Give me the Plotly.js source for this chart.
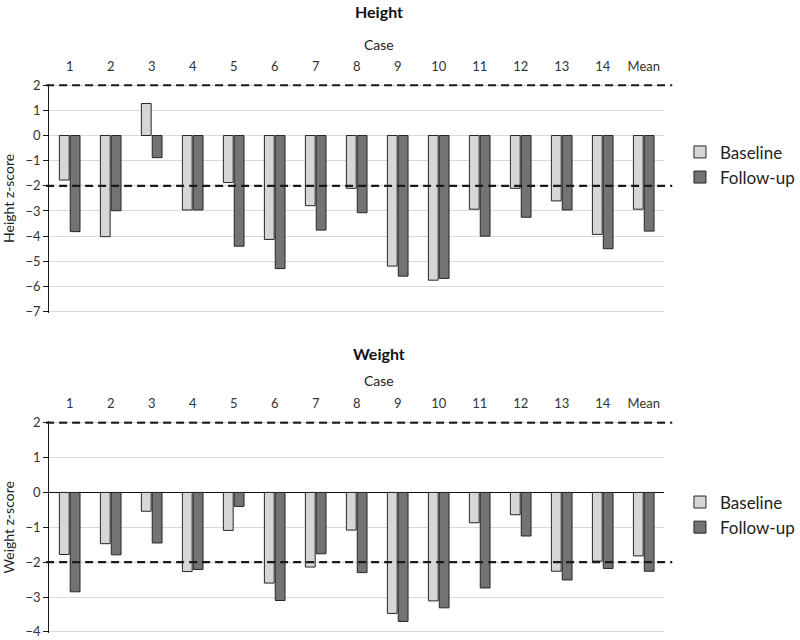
<!DOCTYPE html>
<html>
<head>
<meta charset="utf-8">
<script src="https://cdn.plot.ly/plotly-3.0.1.min.js"></script>
<style>html,body{margin:0;padding:0;background:#fff;}</style>
</head>
<body>
<div id="chart" style="width:800px;height:640px;"></div>
<script>
const cases = ['1','2','3','4','5','6','7','8','9','10','11','12','13','14','Mean'];
const heightBaseline = [-1.77,-4.02,1.27,-2.96,-1.87,-4.13,-2.79,-2.10,-5.19,-5.75,-2.93,-2.10,-2.60,-3.93,-2.93];
const heightFollowup = [-3.82,-2.99,-0.88,-2.96,-4.40,-5.29,-3.76,-3.07,-5.59,-5.68,-4.00,-3.25,-2.96,-4.50,-3.80];
const weightBaseline = [-1.78,-1.47,-0.54,-2.27,-1.09,-2.60,-2.14,-1.08,-3.47,-3.11,-0.87,-0.64,-2.26,-1.97,-1.82];
const weightFollowup = [-2.85,-1.79,-1.45,-2.21,-0.40,-3.10,-1.76,-2.30,-3.70,-3.31,-2.74,-1.25,-2.51,-2.18,-2.26];
const thresholds = [2, -2];
const seriesNames = ['Baseline', 'Follow-up'];

const FONT = 'Lato, "Open Sans", sans-serif';
const baseColor = '#d6d6d6';
const followColor = '#737373';
const outline = {color: '#262626', width: 1};

const traces = [
  {type:'bar', name:seriesNames[0], x:cases, y:heightBaseline, xaxis:'x', yaxis:'y',
   marker:{color:baseColor, line:outline}, legend:'legend', legendgroup:'a'},
  {type:'bar', name:seriesNames[1], x:cases, y:heightFollowup, xaxis:'x', yaxis:'y',
   marker:{color:followColor, line:outline}, legend:'legend', legendgroup:'b'},
  {type:'bar', name:seriesNames[0], x:cases, y:weightBaseline, xaxis:'x2', yaxis:'y2',
   marker:{color:baseColor, line:outline}, legend:'legend2', legendgroup:'c'},
  {type:'bar', name:seriesNames[1], x:cases, y:weightFollowup, xaxis:'x2', yaxis:'y2',
   marker:{color:followColor, line:outline}, legend:'legend2', legendgroup:'d'}
];

const shapes = [];
['y','y2'].forEach(ax => {
  thresholds.forEach(t => {
    shapes.push({type:'line', xref:'x domain', yref:ax, x0:-0.005, x1:1.013, y0:t, y1:t,
      line:{color:'#1a1a1a', width:2.2, dash:'8px,5px'}, layer:'above'});
  });
});

const xCommon = {type:'category', side:'top', showline:false, ticks:'', showgrid:false,
  zeroline:false, tickfont:{family:FONT, size:13, color:'#333'}, domain:[0.0625,0.844],
  ticklabelstandoff:10, fixedrange:true};
const yCommon = {dtick:1, tick0:0, showline:true, linecolor:'#1a1a1a', linewidth:1, ticks:'outside',
  ticklen:5, tickcolor:'#1a1a1a', gridcolor:'#d9d9d9', gridwidth:1, automargin:false,
  tickfont:{family:FONT, size:13, color:'#333'}, fixedrange:true};

const legendCommon = {font:{family:FONT, size:17, color:'#222'}, bgcolor:'rgba(0,0,0,0)',
  itemwidth:30, tracegroupgap:14, x:0.864, xanchor:'left', yanchor:'top', traceorder:'normal'};

const layout = {
  width:800, height:640, margin:{l:0,r:0,t:0,b:0},
  paper_bgcolor:'#fff', plot_bgcolor:'rgba(0,0,0,0)',
  font:{family:FONT, color:'#222'},
  barmode:'group', bargap:0.47, bargroupgap:0.1,
  xaxis:Object.assign({}, xCommon, {anchor:'y'}),
  yaxis:Object.assign({}, yCommon, {domain:[0.5115,0.8685], range:[-7.04,2.04], zeroline:false,
    title:{text:'Height z-score', font:{family:FONT, size:14, color:'#222'}, standoff:8}}),
  xaxis2:Object.assign({}, xCommon, {anchor:'y2'}),
  yaxis2:Object.assign({}, yCommon, {domain:[0.0105,0.3417], range:[-4.04,2.04], zeroline:true,
    zerolinecolor:'#111', zerolinewidth:1.5,
    title:{text:'Weight z-score', font:{family:FONT, size:14, color:'#222'}, standoff:8}}),
  legend:Object.assign({}, legendCommon, {y:0.79}),
  legend2:Object.assign({}, legendCommon, {y:0.243}),
  shapes:shapes,
  annotations:[
    {text:'<b>Height</b>', xref:'paper', yref:'paper', x:0.482, y:0.982, yanchor:'middle', showarrow:false,
     font:{family:FONT, size:16, color:'#111'}},
    {text:'Case', xref:'paper', yref:'paper', x:0.482, y:0.931, yanchor:'middle', showarrow:false,
     font:{family:FONT, size:14, color:'#222'}},
    {text:'<b>Weight</b>', xref:'paper', yref:'paper', x:0.482, y:0.448, yanchor:'middle', showarrow:false,
     font:{family:FONT, size:16, color:'#111'}},
    {text:'Case', xref:'paper', yref:'paper', x:0.482, y:0.406, yanchor:'middle', showarrow:false,
     font:{family:FONT, size:14, color:'#222'}}
  ]
};

Plotly.newPlot('chart', traces, layout, {displayModeBar:false, staticPlot:true});
</script>
</body>
</html>
